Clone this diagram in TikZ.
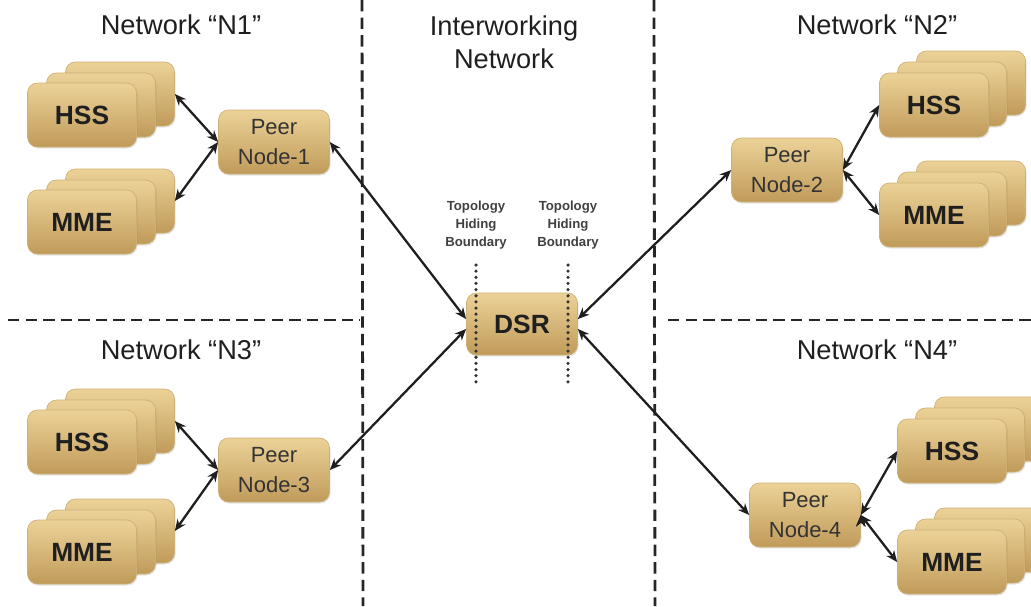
\documentclass[tikz,border=0pt]{standalone}
\usepackage{fontspec}
\setmainfont{Liberation Sans}
\usetikzlibrary{arrows.meta,shadows}
\definecolor{boxtop}{RGB}{236,210,152}
\definecolor{boxbot}{RGB}{192,155,90}
\definecolor{boxedge}{RGB}{206,176,118}
\begin{document}
\begin{tikzpicture}[x=0.02cm, y=-0.02cm,
	box/.style={
	rectangle, rounded corners=2mm, minimum width=2.18cm, minimum height=1.28cm,
	inner sep=0pt, draw=boxedge, thin,
	top color=boxtop, bottom color=boxbot,
	drop shadow={opacity=0.2, shadow xshift=0.6pt, shadow yshift=-0.9pt}},
	unit/.style={box, text=black!88, font=\fontsize{15}{18}\selectfont\bfseries},
	peer/.style={box, minimum width=2.22cm, align=center, text=black!80,
	font=\fontsize{12.5}{17}\selectfont},
	title/.style={align=center, text=black!88, font=\fontsize{15.5}{18.7}\selectfont},
	hiding/.style={align=center, text=black!75, font=\fontsize{7.5}{10.2}\selectfont\bfseries},
	link/.style={{Stealth[length=6.5pt,width=5.5pt]}-{Stealth[length=6.5pt,width=5.5pt]},
	line width=1.3pt, black!88},
	border/.style={line width=1.6pt, dash pattern=on 6.5pt off 3.5pt, black!85},
	boundary/.style={line width=2pt, dash pattern=on 0pt off 3.5pt, line cap=round, black!80}]
	\useasboundingbox (0,0) rectangle (1031,606);
	\draw[border] (362,0) -- (363,606);
	\draw[border] (654,0) -- (655,606);
	\draw[border] (8,320) -- (360,320);
	\draw[border] (668,320) -- (1031,320);
	\node[title] (t1) at (181,25) {Network “N1”};
	\node[title] (t0) at (504,42) {Interworking\\Network};
	\node[title] (t2) at (877,25) {Network “N2”};
	\node[title] (t3) at (181,350) {Network “N3”};
	\node[title] (t4) at (877,350) {Network “N4”};
	\node[box] (hss1c) at (120,94) {};
	\node[box] (hss1b) at (101,105) {};
	\node[unit] (hss1a) at (82,115) {HSS};
	\node[box] (mme1c) at (120,201) {};
	\node[box] (mme1b) at (101,212) {};
	\node[unit] (mme1a) at (82,222) {MME};
	\node[box] (hss3c) at (120,421) {};
	\node[box] (hss3b) at (101,432) {};
	\node[unit] (hss3a) at (82,442) {HSS};
	\node[box] (mme3c) at (120,531) {};
	\node[box] (mme3b) at (101,542) {};
	\node[unit] (mme3a) at (82,552) {MME};
	\node[box] (hss2c) at (971,83) {};
	\node[box] (hss2b) at (952,94) {};
	\node[unit] (hss2a) at (934,105) {HSS};
	\node[box] (mme2c) at (971,193) {};
	\node[box] (mme2b) at (952,204) {};
	\node[unit] (mme2a) at (934,215) {MME};
	\node[box] (hss4c) at (989,429) {};
	\node[box] (hss4b) at (970,440) {};
	\node[unit] (hss4a) at (952,451) {HSS};
	\node[box] (mme4c) at (989,540) {};
	\node[box] (mme4b) at (970,551) {};
	\node[unit] (mme4a) at (952,562) {MME};
	\node[peer] (p1) at (274,142) {Peer\\Node-1};
	\node[peer] (p2) at (787,170) {Peer\\Node-2};
	\node[peer] (p3) at (274,470) {Peer\\Node-3};
	\node[peer] (p4) at (805,515) {Peer\\Node-4};
	\node[unit, minimum width=2.22cm, minimum height=1.24cm] (dsr) at (522,324) {DSR};
	\node[hiding] (h1) at (476,225) {Topology\\Hiding\\Boundary};
	\node[hiding] (h2) at (568,225) {Topology\\Hiding\\Boundary};
	\draw[boundary] (476,265) -- (476,382);
	\draw[boundary] (568,265) -- (568,382);
	\draw[link]
				(hss1c.east) edge (p1.west)
				(mme1c.east) edge (p1.west)
				(p1.east) edge (dsr.175)
				(hss3c.east) edge (p3.west)
				(mme3c.east) edge (p3.west)
				(p3.east) edge (dsr.185)
				(p2.west) edge (dsr.5)
				(p2.east) edge (hss2a.west)
				(p2.east) edge (mme2a.west)
				(p4.west) edge (dsr.355)
				(p4.east) edge (hss4a.west)
				(p4.east) edge (mme4a.west);
\end{tikzpicture}
\end{document}
